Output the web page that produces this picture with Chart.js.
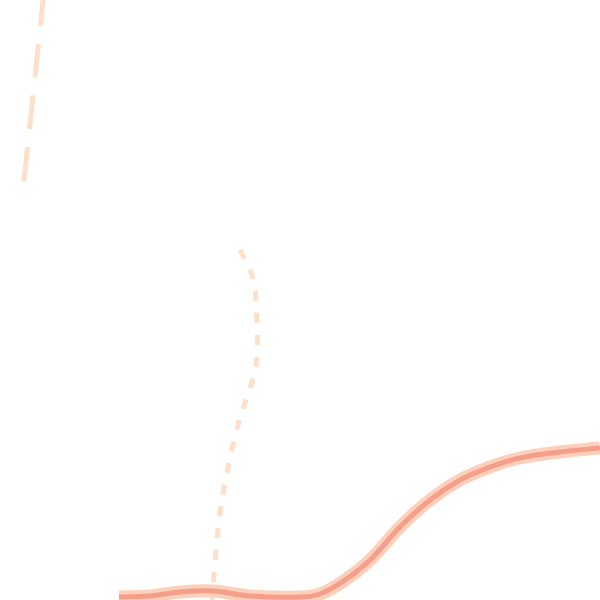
<!DOCTYPE html>
<html>
<head>
<meta charset="utf-8">
<script src="https://cdn.jsdelivr.net/npm/chart.js@4"></script>
<style>
html,body{margin:0;padding:0;background:#fff;}
#wrap{width:600px;height:600px;}
</style>
</head>
<body>
<div id="wrap"><canvas id="c" width="600" height="600"></canvas></div>
<script>
// Solid curve (x, y values; y measured upward from bottom)
const curveX = [119,150,180,213,250,300,320,345,370,400,430,460,490,520,560,600];
const curveY = [3,4,8,9,4,3,6,20,40,73,100,120,133,142,148,152];
// Dashed line
const dashX = [44,23];
const dashY = [608,410];
// Dotted line
const dotX = [240,252,256,256,240,229,219,212];
const dotY = [350,325,300,235,182,138,80,0];

function pts(xs, ys){ return xs.map((x,i)=>({x:x,y:ys[i]})); }

new Chart(document.getElementById('c'), {
  type: 'line',
  data: {
    datasets: [
      {data: pts(curveX, curveY), borderColor:'rgba(245,158,138,1)', borderWidth:5, pointRadius:0, tension:0.4, fill:false, order:1},
      {data: pts(curveX, curveY), borderColor:'rgba(253,208,188,1)', borderWidth:13, pointRadius:0, tension:0.4, fill:false, order:2},
      {data: pts(dashX, dashY), borderColor:'rgba(253,224,202,1)', borderWidth:5, borderDash:[34,18], pointRadius:0, fill:false, order:3},
      {data: pts(dotX, dotY), borderColor:'rgba(253,224,202,1)', borderWidth:5, borderDash:[10,12], pointRadius:0, tension:0.3, fill:false, order:4}
    ]
  },
  options: {
    responsive:false,
    animation:false,
    devicePixelRatio:1,
    layout:{padding:0},
    plugins:{legend:{display:false}, tooltip:{enabled:false}},
    scales:{
      x:{type:'linear', min:0, max:600, display:false},
      y:{type:'linear', min:0, max:600, display:false}
    }
  }
});
</script>
</body>
</html>
